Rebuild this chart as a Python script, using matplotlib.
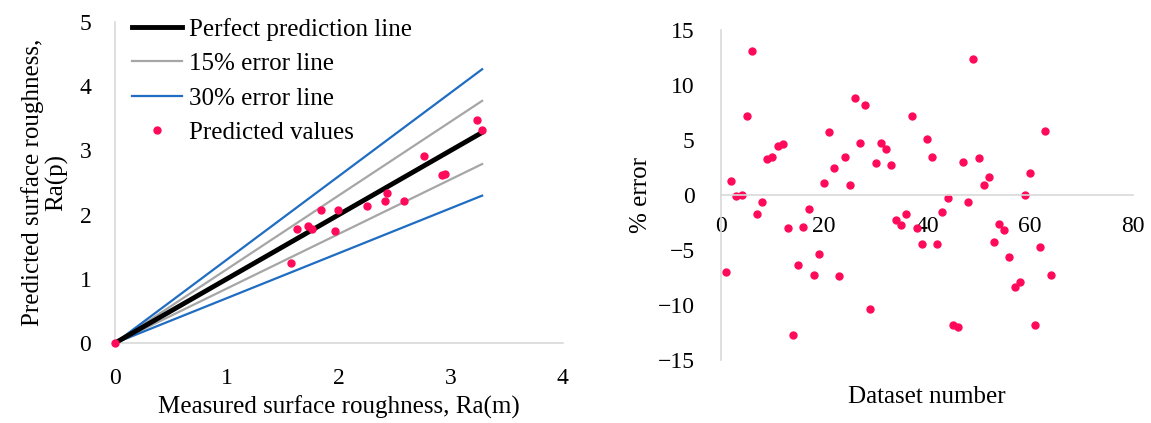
import numpy as np
import matplotlib.pyplot as plt

plt.rcParams['font.family'] = ['Liberation Serif', 'DejaVu Serif']

# Left panel: measured vs predicted roughness
measured = [0, 1.57, 1.63, 1.72, 1.76, 1.84, 1.97, 1.99, 2.25, 2.41, 2.43, 2.58,
            2.76, 2.92, 2.95, 3.23, 3.28]
predicted = [0, 1.25, 1.78, 1.83, 1.77, 2.07, 1.75, 2.07, 2.13, 2.21, 2.34, 2.21,
             2.91, 2.61, 2.63, 3.48, 3.32]
line_x = [0, 3.28]

# Right panel: % error per dataset
dataset = list(range(1, 65))
pct_error = [-7.0, 1.28, -0.1, 0.03, 7.2, 13.1, -1.7, -0.65, 3.26, 3.5,
             4.45, 4.6, -3.0, -12.7, -6.4, -2.9, -1.3, -7.24, -5.4, 1.13,
             5.7, 2.5, -7.36, 3.5, 0.9, 8.8, 4.7, 8.2, -10.4, 2.87,
             4.7, 4.2, 2.74, -2.3, -2.7, -1.7, 7.2, -3.0, -4.5, 5.1,
             3.5, -4.5, -1.56, -0.3, -11.8, -12.0, 3.0, -0.67, 12.35, 3.35,
             0.9, 1.65, -4.3, -2.67, -3.16, -5.6, -8.4, -7.9, 0.03, 2.04,
             -11.8, -4.75, 5.8, -7.24]

pink = '#FF0A5A'
blue = '#1F6DC2'
gray = '#A6A6A6'
spine_c = '#D9D9D9'
fs = 18   # labels, legend
tfs = 17  # tick labels

fig = plt.figure(figsize=(11.51, 4.23), dpi=100)

# ---- left plot
ax1 = fig.add_axes([0.0999, 0.189, 0.389, 0.759])
lx = np.array(line_x)
ax1.plot(lx, lx, color='black', lw=3.5, label='Perfect prediction line', zorder=3)
ax1.plot(lx, lx * 1.15, color=gray, lw=1.6, label='15% error line', zorder=2)
ax1.plot(lx, lx * 0.85, color=gray, lw=1.6, zorder=2)
ax1.plot(lx, lx * 1.3, color=blue, lw=1.6, label='30% error line', zorder=2)
ax1.plot(lx, lx * 0.7, color=blue, lw=1.6, zorder=2)
ax1.plot(measured, predicted, 'o', color=pink, ms=5, ls='none',
         label='Predicted values', zorder=4, clip_on=False)
ax1.set_xlim(0, 4)
ax1.set_ylim(0, 5)
ax1.set_xticks(range(0, 5))
ax1.set_yticks(range(0, 6))
for s in ['top', 'right']:
    ax1.spines[s].set_visible(False)
for s in ['left', 'bottom']:
    ax1.spines[s].set_color(spine_c)
    ax1.spines[s].set_linewidth(1.2)
ax1.tick_params(length=0, labelsize=tfs)
ax1.tick_params(axis='x', pad=18)
ax1.tick_params(axis='y', pad=17)
ax1.set_xlabel('Measured surface roughness, Ra(m)', fontsize=fs, labelpad=5)
ax1.set_ylabel('Predicted surface roughness,\nRa(p)', fontsize=fs,
               linespacing=1.1, labelpad=8)
ax1.legend(loc='upper left', frameon=False, fontsize=fs, handlelength=2.0,
           handletextpad=0.3, borderaxespad=0.0, labelspacing=0.48,
           bbox_to_anchor=(0.015, 1.045))

# ---- right plot
ax2 = fig.add_axes([0.6264, 0.149, 0.358, 0.780])
ax2.plot(dataset, pct_error, 'o', color=pink, ms=5, ls='none')
ax2.set_xlim(0, 80)
ax2.set_ylim(-15, 15)
ax2.set_xticks(range(0, 81, 20))
ax2.set_yticks(range(-15, 16, 5))
ax2.spines['bottom'].set_position(('data', 0))
for s in ['top', 'right']:
    ax2.spines[s].set_visible(False)
for s in ['left', 'bottom']:
    ax2.spines[s].set_color(spine_c)
    ax2.spines[s].set_linewidth(1.2)
ax2.tick_params(length=0, labelsize=tfs)
ax2.tick_params(axis='x', pad=15)
ax2.tick_params(axis='y', pad=19)
ax2.set_ylabel('% error', fontsize=fs)
ax2.set_xlabel('Dataset number', fontsize=fs, labelpad=0)
ax2.xaxis.set_label_coords(0.5, -0.08)

fig.savefig('out.png', dpi=100)
